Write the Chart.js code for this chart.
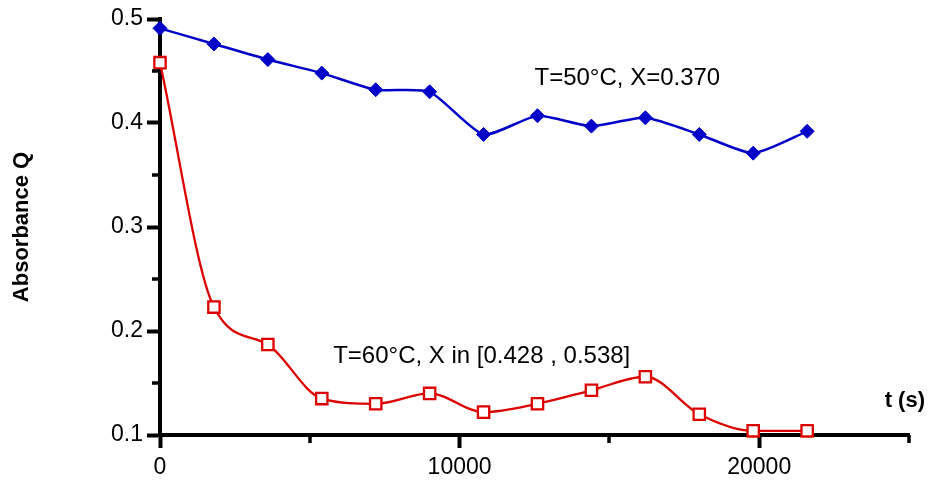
<!DOCTYPE html>
<html>
<head>
<meta charset="utf-8">
<script src="https://cdn.jsdelivr.net/npm/chart.js@4/dist/chart.umd.min.js"></script>
<style>
  html, body { margin: 0; padding: 0; background: #fff; }
  #wrap { width: 928px; height: 481px; }
</style>
</head>
<body>
<div id="wrap"><canvas id="absChart"></canvas></div>
<script>
// Temps de mesure (s)
const times = [0, 1800, 3600, 5400, 7200, 9000, 10800, 12600, 14400, 16200, 18000, 19800, 21600];
// Absorbance Q à 50 °C et 60 °C
const absorb50 = [0.491, 0.476, 0.461, 0.448, 0.432, 0.430, 0.389, 0.407, 0.397, 0.405, 0.389, 0.371, 0.392];
const absorb60 = [0.458, 0.223, 0.187, 0.135, 0.130, 0.140, 0.122, 0.130, 0.143, 0.156, 0.120, 0.104, 0.104];
// Graduations
const xMajor = [0, 10000, 20000];
const xMinor = [5000, 15000, 25000];
const yMajor = [0.1, 0.2, 0.3, 0.4, 0.5];
const yMinor = [0.15, 0.25, 0.35, 0.45];

const FONT = "'Liberation Sans', Arial, sans-serif";

// petites graduations + textes
const extras = {
  id: 'extras',
  afterDraw(chart) {
    const ctx = chart.ctx;
    const xs = chart.scales.x, ys = chart.scales.y;
    ctx.save();
    ctx.strokeStyle = '#000';
    ctx.lineWidth = 3.5;
    ctx.beginPath();
    xMinor.forEach(v => {
      const px = Math.round(xs.getPixelForValue(v));
      ctx.moveTo(px, ys.bottom);
      ctx.lineTo(px, ys.bottom + 8);
    });
    yMinor.forEach(v => {
      const py = Math.round(ys.getPixelForValue(v));
      ctx.moveTo(xs.left, py);
      ctx.lineTo(xs.left - 8, py);
    });
    ctx.stroke();

    ctx.fillStyle = '#000';
    ctx.textBaseline = 'alphabetic';
    ctx.font = '24px ' + FONT;
    ctx.textAlign = 'left';
    ctx.fillText('T=50°C, X=0.370', xs.getPixelForValue(12500), ys.getPixelForValue(0.4365));
    ctx.fillText('T=60°C, X in [0.428 , 0.538]', xs.getPixelForValue(5780), ys.getPixelForValue(0.169));
    ctx.font = 'bold 22px ' + FONT;
    ctx.textAlign = 'right';
    ctx.fillText('t (s)', chart.width - 3, ys.bottom - 28);
    ctx.restore();
  }
};

const ctx = document.getElementById('absChart').getContext('2d');
new Chart(ctx, {
  type: 'line',
  data: {
    datasets: [
      {
        label: 'T=50°C',
        data: times.map((t, i) => ({ x: t, y: absorb50[i] })),
        borderColor: '#0000c8',
        backgroundColor: '#0000c8',
        borderWidth: 2.5,
        pointStyle: 'rectRot',
        pointRadius: 7,
        pointBorderWidth: 1,
        tension: 0.2,
        clip: false
      },
      {
        label: 'T=60°C',
        data: times.map((t, i) => ({ x: t, y: absorb60[i] })),
        borderColor: '#dd0000',
        backgroundColor: '#ffffff',
        pointBackgroundColor: '#ffffff',
        borderWidth: 2.3,
        pointStyle: 'rect',
        pointRadius: 8,
        pointBorderWidth: 2.3,
        cubicInterpolationMode: 'monotone',
        clip: false
      }
    ]
  },
  options: {
    responsive: true,
    maintainAspectRatio: false,
    animation: false,
    layout: { padding: { top: 19, right: 19, left: 0, bottom: 0 } },
    plugins: { legend: { display: false }, tooltip: { enabled: false } },
    scales: {
      x: {
        type: 'linear',
        min: 0,
        max: 25000,
        afterBuildTicks: s => { s.ticks = xMajor.map(v => ({ value: v })); },
        afterFit: s => { s.height = 46; },
        border: { display: true, color: '#000', width: 4 },
        grid: { drawOnChartArea: false, drawTicks: true, tickLength: 13, tickWidth: 4, tickColor: '#000' },
        ticks: { color: '#000', font: { family: FONT, size: 23 }, padding: 6, callback: v => String(v), maxRotation: 0 }
      },
      y: {
        min: 0.1,
        max: 0.5,
        afterBuildTicks: s => { s.ticks = yMajor.map(v => ({ value: v })); },
        afterFit: s => { s.width = 160; },
        border: { display: true, color: '#000', width: 4 },
        grid: { drawOnChartArea: false, drawTicks: true, tickLength: 13, tickWidth: 4, tickColor: '#000' },
        ticks: { color: '#000', font: { family: FONT, size: 23 }, padding: 4, callback: v => v.toFixed(1) },
        title: { display: true, text: 'Absorbance Q', color: '#000', font: { family: FONT, size: 22, weight: 'bold' }, padding: { top: 9, bottom: 0 } }
      }
    }
  },
  plugins: [extras]
});
</script>
</body>
</html>
